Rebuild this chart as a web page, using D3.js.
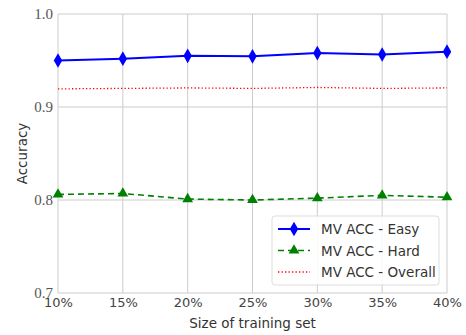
<!DOCTYPE html>
<html>
<head>
<meta charset="utf-8">
<script src="https://cdn.jsdelivr.net/npm/d3@7"></script>
<style>
  body { margin: 0; background: #fff; }
</style>
</head>
<body>
<div id="chart"></div>
<script>
// data
const sizes = ["10%", "15%", "20%", "25%", "30%", "35%", "40%"];
const easyAcc = [0.950, 0.952, 0.955, 0.9545, 0.958, 0.9565, 0.9595];
const hardAcc = [0.806, 0.807, 0.801, 0.800, 0.802, 0.805, 0.803];
const overallAcc = [0.9195, 0.920, 0.9205, 0.920, 0.921, 0.920, 0.9205];
const yTicks = [0.7, 0.8, 0.9, 1.0];

let width = 466;
let height = 335;
let margin = {top: 14, right: 19, bottom: 42, left: 58};

let svg = d3.select("#chart").append("svg").attr("width", width).attr("height", height);

let x = d3.scalePoint().domain(sizes).range([margin.left, width - margin.right]);
let y = d3.scaleLinear().domain([0.7, 1.0]).range([height - margin.bottom, margin.top]);

// grid
let grid = svg.append("g");
sizes.forEach(s => {
	grid.append("line").attr("x1", x(s)).attr("x2", x(s))
		.attr("y1", y(0.7)).attr("y2", y(1.0))
		.style("stroke", "#cccccc").style("stroke-width", 1);
});
yTicks.forEach(t => {
	grid.append("line").attr("x1", x(sizes[0])).attr("x2", x(sizes[sizes.length - 1]))
		.attr("y1", y(t)).attr("y2", y(t))
		.style("stroke", "#cccccc").style("stroke-width", 1);
});

// axes (labels only)
let yAxis = svg.append("g").attr("transform", "translate(" + margin.left + ",0)")
	.call(d3.axisLeft(y).tickValues(yTicks).tickFormat(d3.format(".1f")).tickSize(0).tickPadding(5));
yAxis.select(".domain").remove();
yAxis.selectAll("text").style("font-family", "'Liberation Serif', serif").style("font-size", "15px").style("fill", "#555");

let xAxis = svg.append("g").attr("transform", "translate(0," + y(0.7) + ")")
	.call(d3.axisBottom(x).tickSize(0).tickPadding(5));
xAxis.select(".domain").remove();
xAxis.selectAll("text").style("font-family", "'DejaVu Sans', sans-serif").style("font-size", "13px").style("fill", "#444");

svg.append("text").attr("x", (x(sizes[0]) + x(sizes[6])) / 2).attr("y", 328)
	.attr("text-anchor", "middle").style("font-family", "'DejaVu Sans', sans-serif")
	.style("font-size", "13.5px").style("fill", "#333").text("Size of training set");

svg.append("text").attr("transform", "translate(27," + ((y(0.7) + y(1.0)) / 2) + ") rotate(-90)")
	.attr("text-anchor", "middle").style("font-family", "'DejaVu Sans', sans-serif")
	.style("font-size", "13.5px").style("fill", "#333").text("Accuracy");

let line = d3.line().x((d, i) => x(sizes[i])).y(d => y(d));

let series = [
	{name: "MV ACC - Easy", values: easyAcc, color: "#0000ff", width: 2, dash: null, marker: d3.symbolDiamond},
	{name: "MV ACC - Hard", values: hardAcc, color: "#008000", width: 1.6, dash: "6,4", marker: d3.symbolTriangle},
	{name: "MV ACC - Overall", values: overallAcc, color: "#ff0000", width: 1.3, dash: "1.3,2.2", marker: null}
];

series.forEach(s => {
	svg.append("path").attr("d", line(s.values))
		.style("fill", "none").style("stroke", s.color).style("stroke-width", s.width)
		.style("stroke-dasharray", s.dash);
	if (s.marker) {
		svg.append("g").selectAll("path").data(s.values).enter().append("path")
			.attr("transform", (d, i) => "translate(" + x(sizes[i]) + "," + y(d) + ")")
			.attr("d", d3.symbol().type(s.marker).size(s.marker === d3.symbolDiamond ? 62 : 50))
			.style("fill", s.color);
	}
});

// legend
let legend = svg.append("g").attr("transform", "translate(272,216)");
legend.append("rect").attr("width", 167).attr("height", 69).attr("rx", 3)
	.style("fill", "rgba(255,255,255,0.85)").style("stroke", "#dddddd").style("stroke-width", 1);
series.forEach((s, i) => {
	let ly = 13 + i * 21.5;
	legend.append("line").attr("x1", 6).attr("x2", 38).attr("y1", ly).attr("y2", ly)
		.style("stroke", s.color).style("stroke-width", s.width).style("stroke-dasharray", s.dash);
	if (s.marker) {
		legend.append("path").attr("transform", "translate(22," + ly + ")")
			.attr("d", d3.symbol().type(s.marker).size(s.marker === d3.symbolDiamond ? 62 : 50))
			.style("fill", s.color);
	}
	legend.append("text").attr("x", 49).attr("y", ly + 5)
		.style("font-family", "'DejaVu Sans', sans-serif").style("font-size", "13.5px").style("fill", "#333")
		.text(s.name);
});
</script>
</body>
</html>
